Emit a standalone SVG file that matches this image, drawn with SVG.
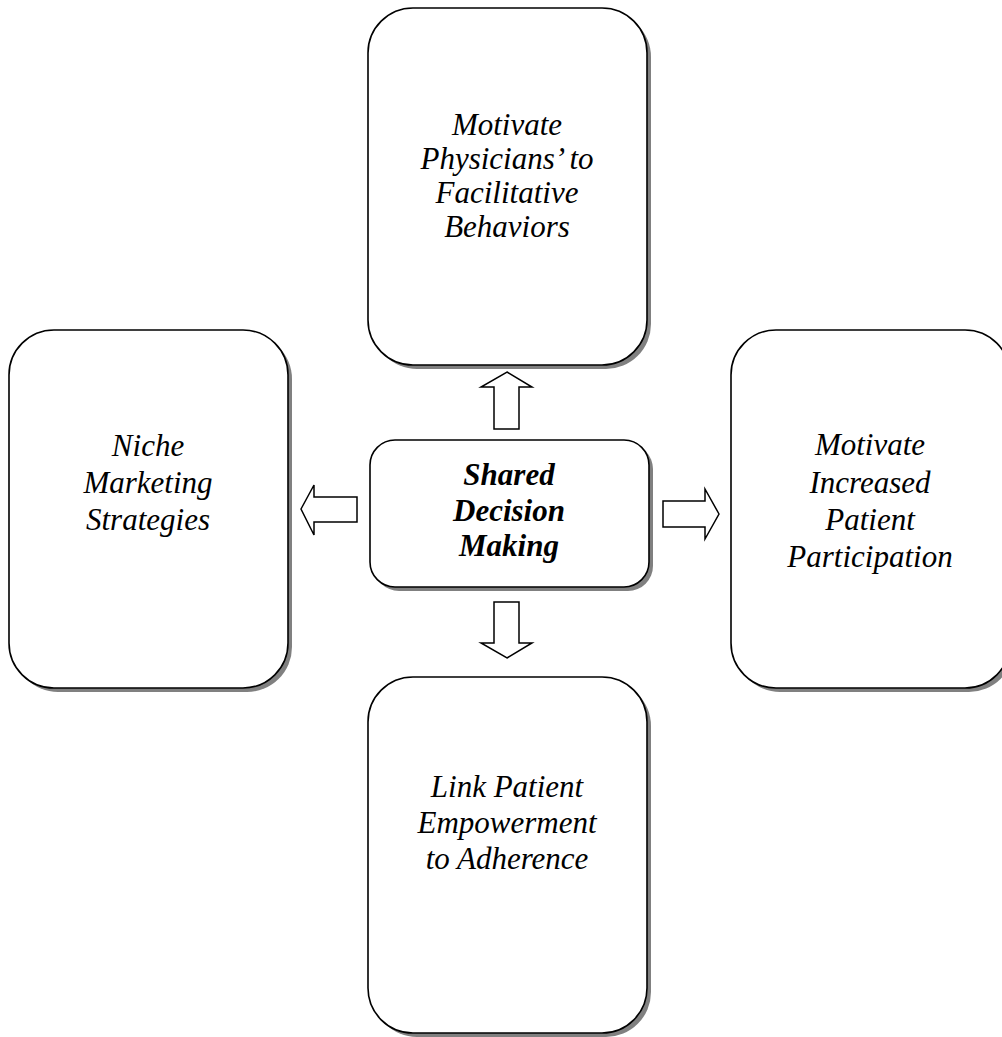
<svg xmlns="http://www.w3.org/2000/svg" width="1002" height="1037" viewBox="0 0 1002 1037">
<style>
.shadow{fill:#808080;stroke:none}
.box{fill:#fff;stroke:#000;stroke-width:1.6}
.arrow{fill:#fff;stroke:#000;stroke-width:1.5;stroke-linejoin:miter}
text{font-family:"Liberation Serif","Times New Roman",serif;font-style:italic;font-size:31px;fill:#000;text-anchor:middle}
.bold{font-weight:bold}
</style>
<rect width="1002" height="1037" fill="#fff"/>
<g id="node-top">
<rect class="shadow" x="372" y="12" width="279" height="357" rx="45"/>
<rect class="box" x="368" y="8" width="279" height="357" rx="45"/>
<text x="507" y="135">Motivate</text>
<text x="507" y="169">Physicians’ to</text>
<text x="507" y="203">Facilitative</text>
<text x="507" y="237">Behaviors</text>
</g>
<g id="node-left">
<rect class="shadow" x="13" y="334" width="279" height="358" rx="45"/>
<rect class="box" x="9" y="330" width="279" height="358" rx="45"/>
<text x="148" y="456">Niche</text>
<text x="148" y="493">Marketing</text>
<text x="148" y="530">Strategies</text>
</g>
<g id="node-right">
<rect class="shadow" x="735" y="334" width="279" height="358" rx="45"/>
<rect class="box" x="731" y="330" width="279" height="358" rx="45"/>
<text x="870" y="455">Motivate</text>
<text x="870" y="493">Increased</text>
<text x="870" y="530">Patient</text>
<text x="870" y="567">Participation</text>
</g>
<g id="node-center">
<rect class="shadow" x="374" y="444" width="279" height="147" rx="25"/>
<rect class="box" x="370" y="440" width="279" height="147" rx="25"/>
<text class="bold" x="509" y="485">Shared</text>
<text class="bold" x="509" y="521">Decision</text>
<text class="bold" x="509" y="556">Making</text>
</g>
<g id="node-bottom">
<rect class="shadow" x="372" y="681" width="279" height="356" rx="45"/>
<rect class="box" x="368" y="677" width="279" height="356" rx="45"/>
<text x="507" y="797">Link Patient</text>
<text x="507" y="833">Empowerment</text>
<text x="507" y="869">to Adherence</text>
</g>
<g id="connectors">
<polygon class="arrow" points="507,372 532,387 519,387 519,429 494,429 494,387 481,387"/>
<polygon class="arrow" points="507,658 532,643 519,643 519,602 494,602 494,643 481,643"/>
<polygon class="arrow" points="301,509 314,485 314,497 357,497 357,522 314,522 314,535"/>
<polygon class="arrow" points="719,514 705,489 705,501 663,501 663,527 705,527 705,539"/>
</g>
</svg>
